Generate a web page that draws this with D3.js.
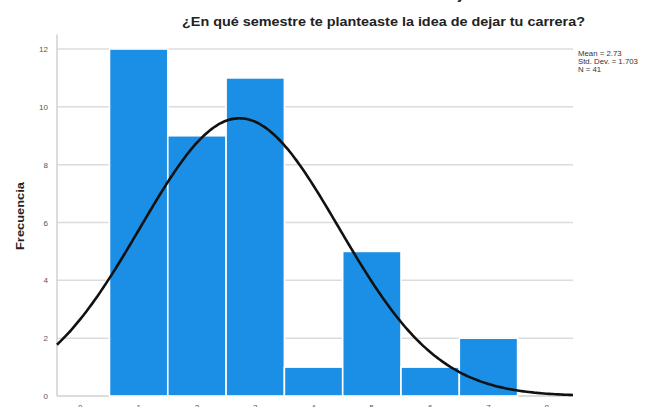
<!DOCTYPE html>
<html><head><meta charset="utf-8">
<script src="https://cdn.jsdelivr.net/npm/d3@7"></script>
<style>body{margin:0;background:#fff;}svg{display:block;font-family:"Liberation Sans",Arial,sans-serif;}</style>
</head><body><svg id="c" width="665" height="407"></svg>
<script>
const semesters = [1, 2, 3, 4, 5, 6, 7];
const counts = [12, 9, 11, 1, 5, 1, 2];
const xTicks = [0, 1, 2, 3, 4, 5, 6, 7, 8];
const yTicks = [0, 2, 4, 6, 8, 10, 12];
const stats = {mean: 2.73, sd: 1.703, n: 41};
const legendLines = ["Mean = 2.73", "Std. Dev. = 1.703", "N = 41"];
const title = "¿En qué semestre te planteaste la idea de dejar tu carrera?";
const yLabel = "Frecuencia";

const svg = d3.select("#c");
const x = d3.scaleLinear().domain([-0.4, 8.45]).range([57, 573]);
const y = d3.scaleLinear().domain([0, 12]).range([396, 49]);

// cut-off remnant of a text above the top edge
svg.append("text").attr("x", 457).attr("y", -1)
  .attr("font-size", 14).attr("font-weight", "bold").attr("fill", "#222").text("y");

// gridlines
svg.append("g").selectAll("line").data(yTicks.filter(d => d > 0)).join("line")
  .attr("x1", x(-0.4)).attr("x2", x(8.45)).attr("y1", d => y(d)).attr("y2", d => y(d))
  .attr("stroke", "#dcdcdc").attr("stroke-width", 1.5);

// axes lines
svg.append("line").attr("x1", x(-0.4)).attr("x2", x(-0.4)).attr("y1", y(12.5)).attr("y2", y(0))
  .attr("stroke", "#d0d0d0").attr("stroke-width", 1.5);
svg.append("line").attr("x1", x(-0.4)).attr("x2", x(8.45)).attr("y1", y(0)).attr("y2", y(0))
  .attr("stroke", "#d0d0d0").attr("stroke-width", 1.5);

// bars
svg.append("g").selectAll("rect").data(semesters).join("rect")
  .attr("x", (d) => x(d - 0.5)).attr("width", x(1) - x(0))
  .attr("y", (d, i) => y(counts[i])).attr("height", (d, i) => y(0) - y(counts[i]))
  .attr("fill", "#1b8fe6").attr("stroke", "#ffffff").attr("stroke-width", 1.6);

// normal curve
const pts = d3.range(-0.4, 8.4501, 0.05).map(v => [v,
  stats.n * 1 / (stats.sd * Math.sqrt(2 * Math.PI)) * Math.exp(-0.5 * Math.pow((v - stats.mean) / stats.sd, 2))]);
svg.append("path").datum(pts)
  .attr("d", d3.line().x(d => x(d[0])).y(d => y(d[1])).curve(d3.curveBasis))
  .attr("fill", "none").attr("stroke", "#111").attr("stroke-width", 2.6);

// y tick labels
svg.append("g").selectAll("text").data(yTicks).join("text")
  .attr("x", 48).attr("y", d => y(d) + 3).attr("text-anchor", "end")
  .attr("font-size", 8).attr("fill", "#555").text(d => d);

// x tick labels
svg.append("g").selectAll("text").data(xTicks).join("text")
  .attr("x", d => x(d)).attr("y", 410).attr("text-anchor", "middle")
  .attr("font-size", 8).attr("fill", "#555").text(d => d);

// title
svg.append("text").attr("x", 182).attr("y", 26)
  .attr("font-size", 12.5).attr("font-weight", "bold").attr("fill", "#222")
  .attr("textLength", 403).attr("lengthAdjust", "spacingAndGlyphs").text(title);

// y label
svg.append("text").attr("transform", "translate(24,216) rotate(-90)").attr("text-anchor", "middle")
  .attr("font-size", 11.5).attr("font-weight", "bold").attr("fill", "#222")
  .attr("textLength", 68).attr("lengthAdjust", "spacingAndGlyphs").text(yLabel);

// legend
svg.append("g").selectAll("text").data(legendLines).join("text")
  .attr("x", 578).attr("y", (d, i) => 56 + i * 8)
  .attr("font-size", 7.8).attr("fill", "#333").text(d => d);
</script></body></html>
